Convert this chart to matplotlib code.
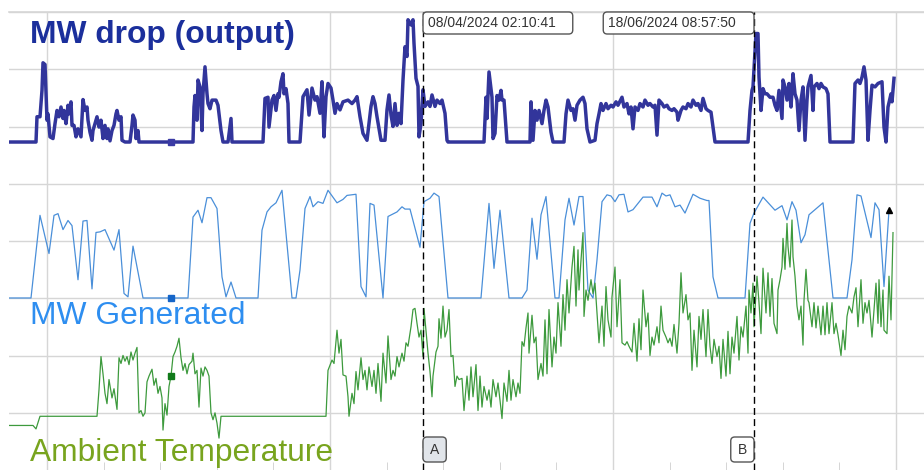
"""Trend view: MW drop, MW generated and ambient temperature on stacked pen scales,
with two cursors (A/B). Writes out.png."""

import datetime as dt

import matplotlib

matplotlib.use("Agg")
import matplotlib.pyplot as plt  # noqa: E402
import numpy as np  # noqa: E402
from matplotlib.patches import FancyBboxPatch  # noqa: E402
from matplotlib.transforms import IdentityTransform  # noqa: E402

plt.rcParams["font.family"] = ["Liberation Sans", "DejaVu Sans"]

# logger time base: sample index -> time
START = dt.datetime(2024, 1, 9, 22, 24)
STEP_H = 5.1685  # hours per sample
N_VIEW = 915      # samples visible in the window

CURSOR_A = dt.datetime(2024, 4, 8, 2, 10, 41)
CURSOR_B = dt.datetime(2024, 6, 18, 8, 57, 50)
MARK_N = 162      # hover marker sample

# MW drop (output)
drop_n = [0, 27, 28, 31, 33, 34, 36, 38, 39, 41,
          44, 46, 48, 50, 52, 54, 55, 57, 59, 60,
          62, 63, 65, 67, 69, 72, 74, 76, 78, 79,
          81, 83, 84, 87, 88, 90, 92, 94, 96, 98,
          99, 101, 103, 105, 107, 108, 110, 112, 113, 116,
          121, 123, 124, 126, 127, 129, 130, 184, 185, 186,
          188, 189, 191, 193, 194, 196, 198, 199, 201, 203,
          207, 209, 212, 214, 219, 222, 223, 254, 256, 259,
          260, 263, 265, 267, 269, 270, 272, 274, 275, 277,
          279, 280, 291, 294, 298, 300, 303, 306, 308, 311,
          313, 315, 317, 319, 322, 324, 326, 328, 331, 334,
          339, 343, 346, 348, 351, 354, 358, 362, 364, 366,
          368, 372, 376, 378, 380, 382, 384, 386, 388, 390,
          392, 394, 396, 398, 399, 402, 404, 405, 407, 409,
          410, 412, 414, 416, 419, 421, 423, 426, 428, 431,
          433, 436, 438, 439, 475, 477, 478, 480, 483, 484,
          486, 488, 490, 492, 493, 495, 498, 521, 522, 524,
          526, 528, 530, 533, 535, 537, 539, 542, 544, 555,
          557, 559, 562, 564, 566, 568, 571, 574, 576, 578,
          581, 586, 588, 590, 592, 594, 597, 599, 602, 604,
          607, 609, 613, 615, 618, 620, 622, 624, 626, 629,
          631, 634, 636, 639, 641, 644, 646, 648, 650, 653,
          655, 658, 660, 663, 665, 668, 669, 672, 674, 677,
          679, 682, 684, 687, 689, 692, 694, 697, 699, 702,
          704, 706, 739, 741, 743, 744, 747, 749, 750, 752,
          754, 756, 758, 761, 764, 766, 768, 770, 773, 774,
          776, 778, 780, 782, 784, 786, 788, 790, 792, 794,
          796, 798, 799, 802, 804, 805, 808, 810, 812, 814,
          817, 819, 821, 844, 846, 849, 851, 853, 855, 857,
          859, 861, 863, 866, 869, 873, 875, 877, 879, 882,
          883, 885]
drop_mw = [0, 0, 4.4, 4.4, 9.0, 13.8, 13.5, 3.8, 4.9, 0.9,
           0.6, 3.2, 5.5, 4.4, 6.1, 4.1, 5.5, 3.2, 6.4, 4.9,
           7.0, 2.9, 2.9, 0.9, 2.3, 0.9, 7.4, 5.5, 6.1, 3.8,
           1.7, 0.3, 2.0, 3.8, 4.4, 2.6, 3.8, 0.6, 2.9, 0.6,
           2.3, 0.2, 2.0, 2.9, 4.9, 5.5, 3.8, 4.4, 0.3, 0,
           0, 2.9, 4.7, 3.8, 0.6, 2.0, 0, 0, 6.1, 8.1,
           3.8, 10.8, 9.6, 2.0, 8.4, 13.1, 8.4, 6.7, 5.8, 7.3,
           7.3, 6.4, 2.0, 0, 0, 4.1, 0, 0, 7.6, 7.8,
           2.6, 7.3, 8.1, 5.5, 8.4, 7.8, 10.5, 11.9, 8.4, 9.3,
           6.7, 0, 0, 7.9, 9.1, 4.7, 9.4, 7.3, 7.9, 5.0,
           10.5, 0.9, 7.9, 10.2, 9.4, 7.3, 5.0, 6.7, 5.6, 7.0,
           7.3, 6.7, 7.3, 7.9, 4.4, 1.5, 0.3, 6.2, 7.9, 6.7,
           4.4, 0.3, 0.3, 5.6, 8.2, 4.7, 2.7, 6.7, 2.9, 5.0,
           3.2, 10.8, 16.6, 14.9, 21.3, 20.4, 21.3, 17.2, 11.1, 9.7,
           0.9, 3.2, 9.1, 6.2, 7.0, 6.2, 8.2, 6.2, 7.3, 6.7,
           7.3, 5.0, 0.3, 0, 0, 7.8, 4.1, 12.2, 7.8, 0.6,
           1.5, 8.1, 7.3, 9.0, 7.3, 7.3, 0, 0, 7.0, 0.3,
           5.5, 3.8, 5.5, 3.2, 5.5, 7.3, 6.1, 1.7, 0, 0,
           4.9, 7.3, 5.5, 5.8, 3.8, 6.4, 7.3, 7.8, 6.7, 2.3,
           0, 0.3, 3.2, 4.9, 6.7, 5.5, 6.7, 5.8, 6.4, 6.1,
           7.0, 6.4, 7.8, 6.1, 6.7, 4.9, 6.1, 2.3, 6.1, 5.5,
           6.7, 6.1, 7.3, 6.4, 6.7, 6.1, 6.4, 1.2, 7.3, 6.7,
           6.1, 6.4, 5.8, 5.5, 5.8, 5.2, 3.8, 5.5, 6.1, 5.8,
           6.7, 6.1, 7.3, 6.4, 6.7, 5.5, 7.6, 5.8, 5.5, 5.2,
           2.6, 0, 0, 5.5, 9.0, 9.6, 18.9, 18.9, 11.3, 5.5,
           9.3, 8.4, 8.4, 7.8, 7.8, 6.4, 5.5, 9.0, 4.1, 10.8,
           9.6, 7.3, 10.2, 6.1, 11.9, 8.4, 7.3, 2.0, 7.3, 9.6,
           0.3, 7.3, 9.6, 11.6, 5.5, 9.6, 10.2, 9.3, 10.2, 9.6,
           9.3, 8.4, 0, 0, 10.2, 10.8, 10.2, 11.3, 13.1, 10.8,
           0.3, 5.5, 9.9, 9.6, 10.2, 10.5, 2.6, 0, 6.1, 8.4,
           7.0, 11.1]

# MW Generated
gen_n = [0, 22, 31, 40, 45, 49, 54, 59, 63, 69,
         74, 78, 83, 87, 91, 96, 105, 110, 115, 119,
         124, 134, 179, 184, 189, 193, 198, 202, 208, 213,
         217, 222, 227, 249, 253, 258, 262, 267, 273, 283,
         287, 291, 296, 301, 304, 309, 314, 319, 328, 334,
         338, 347, 352, 357, 361, 365, 374, 379, 388, 393,
         396, 401, 411, 415, 421, 425, 430, 439, 472, 480,
         485, 491, 500, 513, 518, 523, 528, 532, 537, 546,
         550, 556, 560, 565, 570, 574, 579, 584, 588, 593,
         598, 602, 606, 610, 615, 619, 624, 634, 643, 648,
         653, 657, 661, 666, 671, 676, 684, 691, 698, 700,
         704, 709, 736, 741, 745, 754, 766, 773, 778, 783,
         787, 792, 796, 800, 814, 824, 838, 843, 848, 852,
         862, 866, 870, 875, 880]
gen_mw = [0, 0, 14.5, 7.8, 14.5, 14.8, 12.0, 13.6, 12.7, 3.2,
          13.5, 13.6, 1.6, 11.5, 11.6, 12.0, 8.4, 12.0, 0.8, 0.2,
          9.1, 0, 0, 14.2, 15.4, 13.2, 17.6, 17.6, 15.7, 3.7,
          0.2, 2.8, 0, 0, 11.9, 15.1, 16.0, 16.7, 18.9, 0,
          0, 4.9, 15.7, 17.8, 16.0, 16.9, 16.6, 18.9, 16.7, 17.3,
          18.0, 18.2, 2.0, 0.2, 16.6, 16.3, 0, 14.3, 15.1, 16.0,
          15.6, 15.6, 8.9, 16.9, 17.5, 18.4, 17.8, 0, 0, 16.6,
          5.2, 15.4, 0, 0, 1.4, 14.0, 6.8, 14.6, 17.8, 0,
          0, 13.7, 17.5, 12.8, 17.8, 17.8, 1.4, 0, 6.7, 16.9,
          18.1, 17.9, 16.9, 18.1, 18.2, 15.1, 15.5, 17.7, 17.7, 16.0,
          18.4, 17.9, 18.1, 16.0, 16.3, 14.9, 18.2, 17.5, 17.1, 17.1,
          3.7, 0, 0, 13.1, 14.9, 17.7, 15.4, 16.2, 13.7, 16.9,
          15.4, 9.7, 11.1, 14.6, 16.7, 0, 0, 6.7, 18.1, 17.9,
          10.6, 16.7, 15.5, 2.0, 15.4]

# Ambient Temperature (deg C)
temp_n = [0, 24, 27, 31, 88, 90, 92, 94, 96, 98,
          100, 103, 105, 108, 110, 112, 114, 116, 118, 120,
          122, 124, 126, 128, 130, 132, 134, 136, 138, 140,
          143, 145, 147, 149, 151, 153, 154, 156, 158, 160,
          162, 164, 166, 168, 170, 172, 174, 176, 178, 180,
          183, 184, 186, 188, 190, 192, 194, 196, 198, 200,
          202, 204, 206, 208, 210, 212, 317, 319, 323, 325,
          328, 330, 332, 334, 337, 339, 340, 343, 345, 347,
          349, 352, 354, 356, 358, 360, 363, 365, 367, 369,
          372, 374, 377, 379, 382, 384, 386, 388, 390, 393,
          395, 397, 399, 402, 404, 406, 408, 410, 412, 414,
          415, 417, 419, 421, 423, 424, 427, 429, 430, 432,
          434, 436, 438, 440, 442, 444, 446, 448, 450, 453,
          455, 458, 460, 462, 464, 467, 469, 471, 473, 475,
          478, 480, 482, 484, 487, 489, 491, 493, 495, 498,
          500, 502, 504, 507, 509, 511, 513, 515, 517, 519,
          520, 523, 525, 527, 529, 532, 534, 536, 538, 540,
          543, 545, 547, 549, 552, 554, 556, 558, 560, 563,
          565, 567, 569, 570, 572, 574, 575, 577, 579, 582,
          584, 586, 588, 590, 593, 595, 597, 599, 602, 603,
          606, 608, 611, 613, 616, 618, 620, 623, 625, 628,
          630, 632, 634, 637, 639, 641, 643, 645, 648, 650,
          652, 654, 657, 659, 661, 663, 665, 668, 670, 672,
          674, 677, 679, 681, 683, 685, 688, 690, 692, 694,
          697, 699, 701, 703, 705, 708, 710, 712, 714, 717,
          719, 721, 723, 725, 728, 730, 732, 734, 737, 739,
          740, 742, 744, 745, 748, 750, 752, 754, 757, 759,
          761, 763, 765, 768, 769, 771, 773, 774, 776, 778,
          779, 781, 783, 784, 786, 788, 790, 792, 794, 795,
          797, 799, 800, 803, 805, 807, 809, 812, 814, 816,
          818, 820, 823, 825, 827, 829, 832, 834, 836, 838,
          840, 843, 845, 847, 849, 852, 854, 856, 858, 860,
          863, 865, 867, 869, 870, 872, 874, 875, 878, 880,
          882, 884]
temp_c = [4.0, 4.0, 3.7, 4.8, 4.8, 7.1, 10.0, 8.5, 6.8, 5.9,
          8.0, 6.4, 7.2, 5.4, 9.9, 9.4, 10.1, 9.6, 10.0, 9.3,
          10.4, 9.7, 10.3, 10.8, 5.1, 5.3, 4.8, 5.1, 7.8, 8.3,
          8.9, 7.5, 8.1, 6.8, 7.4, 6.4, 3.6, 5.9, 4.9, 7.4,
          8.3, 10.0, 10.4, 10.9, 11.6, 9.9, 8.8, 9.4, 8.5, 9.3,
          9.6, 10.3, 8.5, 8.8, 5.6, 9.0, 8.3, 9.1, 8.8, 8.3,
          5.1, 4.5, 5.1, 4.2, 2.9, 4.8, 4.8, 8.8, 9.7, 9.4,
          12.3, 10.3, 11.5, 8.4, 8.3, 6.5, 4.8, 6.8, 5.9, 8.7,
          7.1, 9.9, 8.0, 8.8, 7.1, 9.1, 7.4, 8.8, 6.8, 9.4,
          6.1, 10.3, 7.7, 11.8, 8.0, 8.8, 8.3, 10.0, 9.1, 10.3,
          9.6, 11.2, 10.9, 12.6, 14.1, 14.2, 12.9, 11.7, 12.3, 10.0,
          14.2, 12.3, 10.3, 8.7, 6.5, 8.3, 10.4, 10.9, 13.3, 11.6,
          14.4, 11.7, 12.3, 14.1, 10.0, 10.1, 7.4, 8.3, 8.0, 8.1,
          5.3, 8.3, 6.2, 9.1, 6.5, 9.3, 5.3, 8.3, 5.6, 7.4,
          6.2, 7.1, 5.6, 8.0, 6.5, 7.7, 6.2, 4.6, 7.7, 6.1,
          8.8, 6.2, 8.0, 6.5, 7.7, 6.8, 11.3, 10.9, 12.5, 13.8,
          10.3, 13.6, 11.2, 11.7, 8.0, 9.4, 8.3, 13.2, 8.5, 14.1,
          9.1, 11.7, 10.3, 14.7, 10.9, 15.4, 12.3, 16.7, 13.8, 17.8,
          19.6, 14.4, 19.3, 15.8, 18.4, 20.8, 13.5, 15.8, 14.9, 16.7,
          15.5, 16.4, 13.8, 11.2, 14.4, 10.9, 16.1, 13.2, 11.7, 15.2,
          17.8, 12.6, 16.7, 11.2, 11.0, 11.3, 10.9, 10.4, 12.9, 9.6,
          13.3, 10.6, 15.8, 12.6, 13.8, 10.1, 11.7, 11.0, 12.6, 11.2,
          14.4, 12.3, 11.7, 11.2, 11.6, 10.9, 12.8, 10.3, 12.9, 17.3,
          13.8, 15.4, 13.2, 13.8, 8.8, 12.3, 9.1, 13.5, 11.5, 14.1,
          10.0, 14.1, 10.9, 9.4, 11.5, 10.0, 10.9, 8.1, 11.5, 8.3,
          12.2, 8.5, 11.7, 10.3, 13.5, 9.7, 12.6, 11.7, 14.4, 10.3,
          15.8, 13.8, 16.4, 12.6, 17.0, 14.7, 12.0, 17.7, 13.8, 17.3,
          13.5, 16.8, 12.9, 12.0, 15.8, 16.7, 17.8, 20.3, 17.6, 21.6,
          19.6, 17.8, 21.9, 18.7, 17.0, 14.4, 13.2, 14.4, 11.0, 14.9,
          17.6, 14.9, 14.7, 12.6, 14.7, 12.5, 14.4, 11.9, 14.4, 11.9,
          14.7, 12.0, 14.7, 12.0, 12.9, 11.9, 10.1, 12.3, 10.6, 13.5,
          14.4, 13.8, 15.2, 16.0, 12.6, 16.7, 12.9, 14.7, 13.8, 14.9,
          11.7, 14.1, 16.4, 12.9, 16.7, 12.6, 15.8, 12.3, 12.0, 17.0,
          13.2, 20.8]


def to_sample(t):
    return (t - START).total_seconds() / 3600.0 / STEP_H


W, H = 924, 470
fig = plt.figure(figsize=(W / 100, H / 100), dpi=100)
rect = [9 / W, 0, 915 / W, 458 / H]

# base axes: grid only
ax = fig.add_axes(rect)
ax.set_xlim(0, N_VIEW)
ax.set_ylim(0, 8)
ax.set_yticks(np.arange(1, 9))
ax.set_xticks(np.arange(38, N_VIEW, 283.0))
minor = np.arange(38, N_VIEW, 56.6)
ax.set_xticks(minor[minor % 283.0 > 1], minor=True)
ax.grid(True, color="#d6d6d6", lw=1.0)
ax.axhline(8, color="#d6d6d6", lw=1.2, clip_on=False)
ax.tick_params(which="both", labelbottom=False, labelleft=False)
ax.tick_params(which="major", length=0)
ax.tick_params(which="minor", direction="in", length=5.5, color="#cfcfcf",
               bottom=True, left=False)
for s in ax.spines.values():
    s.set_visible(False)


def overlay(lo, hi):
    a = fig.add_axes(rect, sharex=ax)
    a.set_ylim(lo, hi)
    a.set_axis_off()
    return a


ax_drop = overlay(-57.14, 22.65)
ax_gen = overlay(-30.18, 50.18)
ax_temp = overlay(0.12, 40.02)

ax_drop.plot(drop_n, drop_mw, color="#32359b", lw=2.5, solid_joinstyle="round")
ax_gen.plot(gen_n, gen_mw, color="#4a8fd9", lw=0.9)
ax_temp.plot(temp_n, temp_c, color="#3d9a3d", lw=0.9)

ax_drop.plot(MARK_N, np.interp(MARK_N, drop_n, drop_mw), "s", color="#3b3ba5", ms=5)
ax_gen.plot(MARK_N, np.interp(MARK_N, gen_n, gen_mw), "s", color="#1565c8", ms=4.5)
ax_temp.plot(MARK_N, np.interp(MARK_N, temp_n, temp_c), "s", color="#117a1a", ms=5)
ax_gen.plot(gen_n[-1], gen_mw[-1], "^", color="black", ms=4.5)

# cursors
top = ax_temp
nA, nB = to_sample(CURSOR_A), to_sample(CURSOR_B)
for n in (nA, nB):
    top.axvline(n, color="black", lw=1.0, ls=(0, (5, 3)), zorder=5)

fig.canvas.draw()
renderer = fig.canvas.get_renderer()


def cursor_tag(n, label, side, y_top, height, pad_l, pad_r, fc):
    """Rounded tag glued to a cursor line; pixel units, origin top-left."""
    t = fig.text(0, 0, label, fontsize=10, color="#333333", va="center",
                 ha="left", transform=IdentityTransform(), zorder=8)
    w = t.get_window_extent(renderer).width
    bw = w + pad_l + pad_r
    xc = top.transData.transform((n, 0))[0]
    x0 = xc if side == "right" else xc - bw
    y0 = H - y_top - height
    fig.add_artist(FancyBboxPatch((x0, y0), bw, height,
                                  boxstyle="round,pad=0,rounding_size=4",
                                  fc=fc, ec="#555555", lw=1.0,
                                  transform=IdentityTransform(), zorder=7))
    t.set_position((x0 + pad_l, y0 + height / 2))


fmt = "%d/%m/%Y %H:%M:%S"
cursor_tag(nA, CURSOR_A.strftime(fmt), "right", 12, 22, 5, 17, "white")
cursor_tag(nB, CURSOR_B.strftime(fmt), "left", 12, 22, 5, 18, "white")
cursor_tag(nA, "A", "right", 437, 25, 7, 7, "#e1e5ea")
cursor_tag(nB, "B", "left", 437, 25, 7, 7, "white")

# pen labels
fig.text(30 / W, 1 - 43 / H, "MW drop (output)", fontsize=22.9, fontweight="bold",
         color="#1b2f9c", va="baseline")
fig.text(30 / W, 1 - 324 / H, "MW Generated", fontsize=22.9, color="#2e8ef0",
         va="baseline")
fig.text(30 / W, 1 - 461 / H, "Ambient Temperature", fontsize=22.9, color="#78a41e",
         va="baseline")

fig.savefig("out.png", dpi=100)
